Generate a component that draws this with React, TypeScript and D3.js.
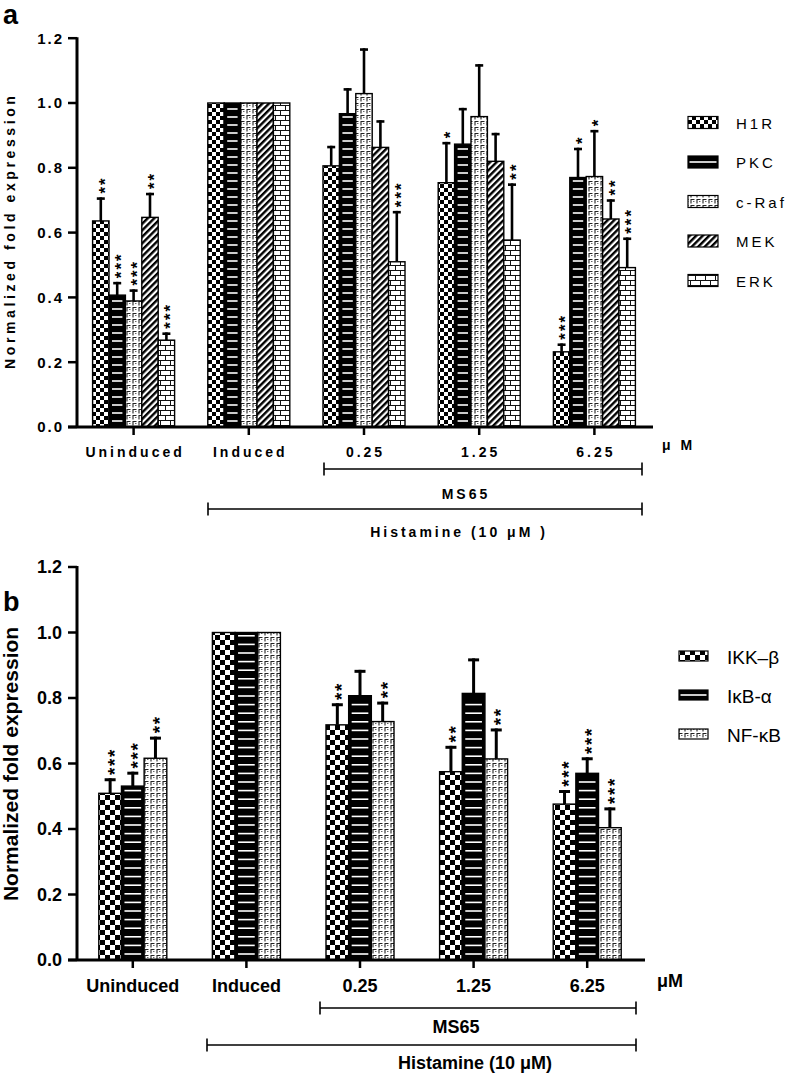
import React from "react";
import * as d3 from "d3";

const categories = ["Uninduced", "Induced", "0.25", "1.25", "6.25"];

// Panel a
const seriesA = ["H1R", "PKC", "c-Raf", "MEK", "ERK"];
const valuesA: Record<string, number[]> = {
  H1R: [0.636, 1.0, 0.806, 0.754, 0.232],
  PKC: [0.407, 1.0, 0.967, 0.873, 0.77],
  "c-Raf": [0.389, 1.0, 1.029, 0.958, 0.773],
  MEK: [0.647, 1.0, 0.863, 0.82, 0.642],
  ERK: [0.268, 1.0, 0.51, 0.577, 0.492],
};
const errorsA: Record<string, number[]> = {
  H1R: [0.073, 0, 0.062, 0.126, 0.026],
  PKC: [0.041, 0, 0.079, 0.112, 0.092],
  "c-Raf": [0.036, 0, 0.14, 0.162, 0.144],
  MEK: [0.076, 0, 0.084, 0.088, 0.061],
  ERK: [0.024, 0, 0.157, 0.175, 0.093],
};
const starsA: Record<string, number[]> = {
  H1R: [2, 0, 0, 1, 3],
  PKC: [3, 0, 0, 0, 1],
  "c-Raf": [3, 0, 0, 0, 1],
  MEK: [2, 0, 0, 0, 2],
  ERK: [3, 0, 3, 2, 3],
};

// Panel b
const seriesB = ["IKK–β", "IκB-α", "NF-κB"];
const valuesB: Record<string, number[]> = {
  "IKK–β": [0.509, 1.0, 0.718, 0.575, 0.476],
  "IκB-α": [0.531, 1.0, 0.807, 0.814, 0.57],
  "NF-κB": [0.616, 1.0, 0.728, 0.614, 0.404],
};
const errorsB: Record<string, number[]> = {
  "IKK–β": [0.046, 0, 0.066, 0.079, 0.043],
  "IκB-α": [0.044, 0, 0.079, 0.107, 0.049],
  "NF-κB": [0.066, 0, 0.061, 0.093, 0.062],
};
const starsB: Record<string, number[]> = {
  "IKK–β": [3, 0, 2, 2, 3],
  "IκB-α": [3, 0, 0, 0, 3],
  "NF-κB": [2, 0, 2, 2, 3],
};

const yTicks = [0, 0.2, 0.4, 0.6, 0.8, 1.0, 1.2];

const FONT = "'Liberation Sans', Arial, Helvetica, sans-serif";

const patternIdsA = ["checkA", "stripe", "craf", "mek", "erk"];
const patternIdsB = ["checkB", "stripe", "craf"];

function Defs() {
  return (
    <defs>
      <pattern id="checkA" width={8} height={8} patternUnits="userSpaceOnUse">
        <rect width={8} height={8} fill="#fff" />
        <rect x={0} y={0} width={4} height={4} fill="#000" />
        <rect x={4} y={4} width={4} height={4} fill="#000" />
      </pattern>
      <pattern id="checkB" width={10} height={10} patternUnits="userSpaceOnUse">
        <rect width={10} height={10} fill="#fff" />
        <rect x={0} y={0} width={5} height={5} fill="#000" />
        <rect x={5} y={5} width={5} height={5} fill="#000" />
      </pattern>
      <pattern id="craf" width={6} height={6} patternUnits="userSpaceOnUse">
        <rect width={6} height={6} fill="#fff" />
        <path d="M1,5.5 V1.5 H4.5" stroke="#222" strokeWidth={1.1} fill="none" />
        <path d="M3.2,3.5 H4.4" stroke="#444" strokeWidth={1} fill="none" />
      </pattern>
      <pattern id="mek" width={4.6} height={4.6} patternUnits="userSpaceOnUse" patternTransform="rotate(45)">
        <rect width={4.6} height={4.6} fill="#fff" />
        <rect x={0} y={0} width={2.4} height={4.6} fill="#000" />
      </pattern>
      <pattern id="erk" width={10} height={10} patternUnits="userSpaceOnUse">
        <rect width={10} height={10} fill="#fff" />
        <path d="M0,0.5 H10 M0,5.5 H10 M0.5,0 V5.5 M5.5,5.5 V10" stroke="#111" strokeWidth={1} fill="none" />
      </pattern>
    </defs>
  );
}

type PanelProps = {
  series: string[];
  values: Record<string, number[]>;
  errors: Record<string, number[]>;
  stars: Record<string, number[]>;
  patterns: string[];
  yRange: [number, number];
  xRange: [number, number];
  groupHalf: number;
  capW: number;
  errW: number;
  starFont: number;
  starGap: number;
  stripeInset: number;
  stripeGap: number;
};

function Bars(p: PanelProps) {
  const y = d3.scaleLinear().domain([0, 1.2]).range(p.yRange);
  const x = d3.scaleBand().domain(categories).range(p.xRange);
  const xi = d3.scaleBand().domain(p.series).range([-p.groupHalf, p.groupHalf]);
  const bw = xi.bandwidth();
  const els: any[] = [];
  const starEls: any[] = [];
  categories.forEach((c, ci) => {
    const cx = (x(c) as number) + x.bandwidth() / 2;
    p.series.forEach((s, si) => {
      const v = p.values[s][ci];
      const e = p.errors[s][ci];
      const bx = cx + (xi(s) as number);
      const top = y(v);
      const base = y(0);
      const mid = bx + bw / 2;
      const pat = p.patterns[si];
      if (e > 0) {
        const et = y(v + e);
        els.push(
          <line key={`ev${ci}${si}`} x1={mid} x2={mid} y1={top} y2={et} stroke="#000" strokeWidth={p.errW} />,
          <line key={`ec${ci}${si}`} x1={mid - p.capW / 2} x2={mid + p.capW / 2} y1={et + p.errW / 2} y2={et + p.errW / 2} stroke="#000" strokeWidth={p.errW} />
        );
      }
      els.push(
        <rect
          key={`b${ci}${si}`}
          x={bx}
          y={top}
          width={bw}
          height={base - top}
          fill={pat === "stripe" ? "#000" : `url(#${pat})`}
          stroke="#000"
          strokeWidth={1.4}
        />
      );
      if (pat === "stripe") {
        d3.range(base - 6, top + 3, -p.stripeGap).forEach((yy, k) => {
          els.push(
            <line key={`s${ci}${si}${k}`} x1={bx + p.stripeInset} x2={bx + bw - p.stripeInset} y1={yy} y2={yy} stroke="#fff" strokeWidth={1.6} />
          );
        });
      }
      const n = p.stars[s][ci];
      if (n > 0) {
        const capY = y(v + e);
        const fs = p.starFont;
        const adv = 0.389 * fs;
        const ls = p.starGap - adv;
        const startY = capY - 7 + 0.195 * fs;
        starEls.push(
          <text
            key={`st${ci}${si}`}
            transform={`translate(${mid + 0.575 * fs},${startY}) rotate(-90)`}
            fontSize={fs}
            fontWeight="bold"
            letterSpacing={ls}
            fontFamily={FONT}
          >
            {"*".repeat(n)}
          </text>
        );
      }
    });
  });
  return (
    <g>
      {els}
      {starEls}
    </g>
  );
}

function Axes({ yRange, xRange, axisEnd, tickFont, tickLs, labelFont, labelLs, labelY }: any) {
  const y = d3.scaleLinear().domain([0, 1.2]).range(yRange);
  const x = d3.scaleBand().domain(categories).range(xRange);
  const ax = 77;
  return (
    <g>
      <line x1={ax} x2={ax} y1={y(0)} y2={y(1.2) - 1} stroke="#000" strokeWidth={3} />
      <line x1={68} x2={axisEnd} y1={y(0)} y2={y(0)} stroke="#000" strokeWidth={3} />
      {yTicks.map((t) => (
        <g key={t}>
          <line x1={68} x2={ax} y1={y(t)} y2={y(t)} stroke="#000" strokeWidth={2.5} />
          <text x={62 + tickLs} y={y(t)} dy="0.36em" textAnchor="end" fontSize={tickFont} fontWeight="bold" letterSpacing={tickLs} fontFamily={FONT}>
            {t.toFixed(1)}
          </text>
        </g>
      ))}
      {categories.map((c) => {
        const cx = (x(c) as number) + x.bandwidth() / 2;
        return (
          <g key={c}>
            <line x1={cx} x2={cx} y1={y(0)} y2={y(0) + 8} stroke="#000" strokeWidth={2.5} />
            <text x={cx + labelLs / 2} y={labelY} dy="0.36em" textAnchor="middle" fontSize={labelFont} fontWeight="bold" letterSpacing={labelLs} fontFamily={FONT}>
              {c}
            </text>
          </g>
        );
      })}
    </g>
  );
}

function Bracket({ x1, x2, y, h }: any) {
  return (
    <g stroke="#000" strokeWidth={1.6}>
      <line x1={x1} x2={x2} y1={y} y2={y} />
      <line x1={x1} x2={x1} y1={y - h} y2={y + h} />
      <line x1={x2} x2={x2} y1={y - h} y2={y + h} />
    </g>
  );
}

function LegendSwatch({ pat, x, cy, w, h }: any) {
  if (pat === "stripe") {
    return (
      <g>
        <rect x={x} y={cy - h / 2} width={w} height={h} fill="#000" stroke="#000" strokeWidth={1.2} />
        <line x1={x + 1.5} x2={x + w - 1.5} y1={cy} y2={cy} stroke="#fff" strokeWidth={1.6} />
      </g>
    );
  }
  return <rect x={x} y={cy - h / 2} width={w} height={h} fill={`url(#${pat})`} stroke="#000" strokeWidth={1.2} />;
}

export default function App() {
  return (
    <svg width={787} height={1074} style={{ position: "absolute", left: 0, top: 0, background: "#fff" }} fontFamily={FONT}>
      <Defs />
      <rect width={787} height={1074} fill="#fff" />
      {/* Panel a */}
      <text x={3} y={24} fontSize={27} fontWeight="bold">a</text>
      <text transform={`translate(15,232.5) rotate(-90)`} textAnchor="middle" fontSize={14} fontWeight="bold" letterSpacing={3.6} dx={1.8}>
        Normalized fold expression
      </text>
      <Bars
        series={seriesA}
        values={valuesA}
        errors={errorsA}
        stars={starsA}
        patterns={patternIdsA}
        yRange={[427, 38.2]}
        xRange={[76, 652]}
        groupHalf={41}
        capW={8}
        errW={2.6}
        starFont={17}
        starGap={8.6}
        stripeInset={3}
        stripeGap={8}
      />
      <Axes yRange={[427, 38.2]} xRange={[76, 652]} axisEnd={653} tickFont={15} tickLs={2} labelFont={14} labelLs={3} labelY={452} />
      <text x={662} y={445} dy="0.36em" fontSize={14} fontWeight="bold" letterSpacing={3}>μ M</text>
      <Bracket x1={324} x2={642} y={469} h={6.5} />
      <text x={466} y={494} dy="0.36em" textAnchor="middle" fontSize={14} fontWeight="bold" letterSpacing={3}>MS65</text>
      <Bracket x1={208} x2={642} y={509} h={6.5} />
      <text x={459} y={532} dy="0.36em" textAnchor="middle" fontSize={14} fontWeight="bold" letterSpacing={3}>Histamine (10 μM )</text>
      {seriesA.map((s, i) => {
        const cy = 122.5 + i * 39.5;
        return (
          <g key={s}>
            <LegendSwatch pat={patternIdsA[i]} x={688} cy={cy} w={30} h={12} />
            <text x={736} y={cy + 1} dy="0.36em" fontSize={15} letterSpacing={3}>{s}</text>
          </g>
        );
      })}

      {/* Panel b */}
      <text x={3} y={611} fontSize={27} fontWeight="bold">b</text>
      <text transform={`translate(18,764) rotate(-90)`} textAnchor="middle" fontSize={21} fontWeight="bold">
        Normalized fold expression
      </text>
      <Bars
        series={seriesB}
        values={valuesB}
        errors={errorsB}
        stars={starsB}
        patterns={patternIdsB}
        yRange={[960, 567]}
        xRange={[76, 644]}
        groupHalf={34}
        capW={11}
        errW={3}
        starFont={19}
        starGap={9}
        stripeInset={3}
        stripeGap={8.6}
      />
      <Axes yRange={[960, 567]} xRange={[76, 644]} axisEnd={645} tickFont={18} tickLs={0} labelFont={18} labelLs={0} labelY={986} />
      <text x={657} y={981} dy="0.36em" fontSize={18} fontWeight="bold">μM</text>
      <Bracket x1={320} x2={636} y={1008} h={6.5} />
      <text x={456} y={1027} dy="0.36em" textAnchor="middle" fontSize={18} fontWeight="bold">MS65</text>
      <Bracket x1={207} x2={636} y={1045} h={6.5} />
      <text x={475} y={1063} dy="0.36em" textAnchor="middle" fontSize={18} fontWeight="bold">Histamine (10 μM)</text>
      {seriesB.map((s, i) => {
        const cy = 656 + i * 39;
        return (
          <g key={s}>
            <LegendSwatch pat={patternIdsB[i]} x={679} cy={cy} w={29} h={10} />
            <text x={727} y={cy + 1} dy="0.36em" fontSize={19}>{s}</text>
          </g>
        );
      })}
    </svg>
  );
}
